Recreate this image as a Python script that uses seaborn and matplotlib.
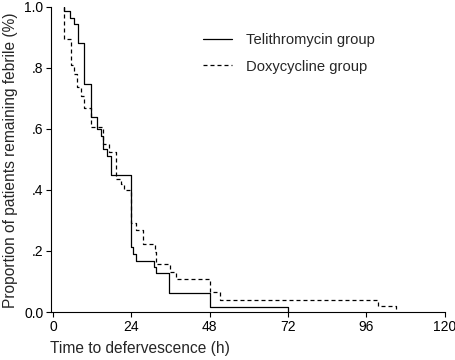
import numpy as np
import pandas as pd
import matplotlib
matplotlib.use("Agg")
import matplotlib.pyplot as plt
import seaborn as sns

sns.set_style("ticks")
plt.rcParams['font.family'] = ['Liberation Sans', 'DejaVu Sans']

# Telithromycin group (Kaplan-Meier style step data)
teli_t = [3.5, 3.5, 5.2, 6.5, 7.6, 9.6, 11.7, 13.6, 14.7, 15.4, 16.6, 17.7, 24.0, 24.4, 25.6, 31.0, 31.5, 35.6, 48.0, 72.0]
teli_v = [1.0, 0.985, 0.962, 0.942, 0.879, 0.745, 0.637, 0.600, 0.575, 0.535, 0.510, 0.449, 0.213, 0.190, 0.168, 0.147, 0.128, 0.063, 0.016, 0.0]

# Doxycycline group
doxy_t = [3.5, 3.5, 5.4, 6.5, 7.5, 8.5, 9.6, 11.7, 15.4, 17.3, 19.3, 20.8, 21.8, 24.0, 25.4, 27.5, 31.2, 31.5, 35.8, 37.6, 48.0, 51.3, 99.5, 105.0]
doxy_v = [1.0, 0.895, 0.810, 0.778, 0.737, 0.707, 0.668, 0.604, 0.550, 0.525, 0.435, 0.420, 0.400, 0.290, 0.268, 0.224, 0.197, 0.156, 0.131, 0.107, 0.065, 0.040, 0.021, 0.0]

groups = ["Telithromycin group", "Doxycycline group"]
x_ticks = [0, 24, 48, 72, 96, 120]
y_ticks = [0.0, 0.2, 0.4, 0.6, 0.8, 1.0]
y_tick_labels = ["0.0", ".2", ".4", ".6", ".8", "1.0"]

df = pd.concat([
    pd.DataFrame({"t": teli_t, "v": teli_v, "group": groups[0]}),
    pd.DataFrame({"t": doxy_t, "v": doxy_v, "group": groups[1]}),
], ignore_index=True)

fig = plt.figure(figsize=(4.56, 3.60), dpi=100)
ax = fig.add_axes([51/456, 1 - 312/360, (444.5 - 51)/456, (312 - 6.5)/360])

sns.lineplot(data=df, x="t", y="v", hue="group", style="group",
             hue_order=groups, style_order=groups,
             palette={groups[0]: "black", groups[1]: "black"},
             dashes={groups[0]: "", groups[1]: (3.2, 2.4)},
             units="group", estimator=None, sort=False,
             drawstyle="steps-post", linewidth=0.9, legend=False, ax=ax)

ax.set_xlim(-0.6, 120)
ax.set_ylim(0, 1.0)
ax.set_xticks(x_ticks)
ax.set_xticklabels([str(v) for v in x_ticks])
ax.set_yticks(y_ticks)
ax.set_yticklabels(y_tick_labels)
ax.tick_params(axis="both", direction="out", length=3.5, width=0.8, labelsize=10,
               colors="black", pad=2)
for s in ["top", "right"]:
    ax.spines[s].set_visible(False)
for s in ["left", "bottom"]:
    ax.spines[s].set_linewidth(0.8)
    ax.spines[s].set_color("black")
ax.set_xlabel("")
ax.set_ylabel("")

fig.text(50/456, 1 - 349/360, "Time to defervescence (h)", ha="left", va="center", fontsize=11.2)
fig.text(11/456, 1 - 160/360, "Proportion of patients remaining febrile (%)",
         ha="center", va="center", rotation=90, fontsize=11.2)

lines = ax.get_lines()
leg = ax.legend(lines[:2], groups, loc="upper left",
                bbox_to_anchor=(203/456, 1 - 33/360), bbox_transform=fig.transFigure,
                frameon=False, fontsize=10.6, handlelength=2.0, handletextpad=0.9,
                labelspacing=0.85, borderpad=0, borderaxespad=0)

fig.savefig("out.png", dpi=100)
